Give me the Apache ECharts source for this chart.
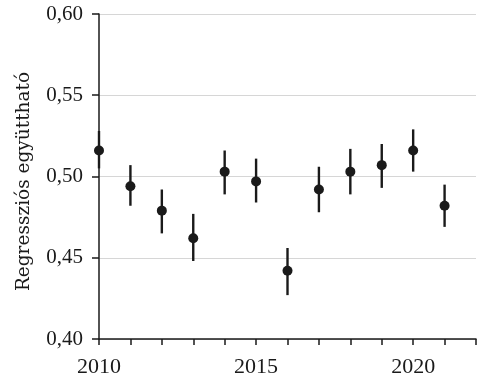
<!DOCTYPE html>
<html>
<head>
<meta charset="utf-8">
<script src="https://cdn.jsdelivr.net/npm/echarts@6/dist/echarts.min.js"></script>
<style>
html,body{margin:0;padding:0;background:#fff;}
#chart{width:485px;height:378px;}
</style>
</head>
<body>
<div id="chart"></div>
<script>
var years = [2010, 2011, 2012, 2013, 2014, 2015, 2016, 2017, 2018, 2019, 2020, 2021];
var estimates = [0.516, 0.494, 0.479, 0.462, 0.503, 0.497, 0.442, 0.492, 0.503, 0.507, 0.516, 0.482];
var lower = [0.505, 0.482, 0.465, 0.448, 0.489, 0.484, 0.427, 0.478, 0.489, 0.493, 0.503, 0.469];
var upper = [0.528, 0.507, 0.492, 0.477, 0.516, 0.511, 0.456, 0.506, 0.517, 0.520, 0.529, 0.495];
var yTicks = [0.40, 0.45, 0.50, 0.55, 0.60];
var xLabelYears = [2010, 2015, 2020];
var yAxisTitle = 'Regressziós együttható';

var fontFam = '"Liberation Serif", "DejaVu Serif", serif';
var titleFam = '"DejaVu Serif", "Liberation Serif", serif';
var ink = '#1a1a1a';

var chart = echarts.init(document.getElementById('chart'));
var points = years.map(function (y, i) { return [y, estimates[i]]; });
var bars = years.map(function (y, i) { return [y, lower[i], upper[i]]; });

chart.setOption({
  animation: false,
  backgroundColor: '#ffffff',
  grid: { left: 99, right: 9, top: 14, bottom: 39 },
  xAxis: {
    type: 'value',
    min: 2010, max: 2022, interval: 1,
    axisLine: { show: true, lineStyle: { color: ink, width: 1.5 } },
    axisTick: { show: true, length: 6, lineStyle: { color: ink, width: 1.5 } },
    splitLine: { show: false },
    axisLabel: {
      color: ink, fontFamily: fontFam, fontSize: 22, margin: 17,
      formatter: function (v) { return xLabelYears.indexOf(v) >= 0 ? String(v) : ''; }
    }
  },
  yAxis: {
    type: 'value',
    min: yTicks[0], max: yTicks[yTicks.length - 1], interval: 0.05,
    name: yAxisTitle,
    nameLocation: 'middle',
    nameGap: 65,
    nameTextStyle: { color: ink, fontFamily: titleFam, fontSize: 18.5, padding: [0, 10, 0, 0] },
    axisLine: { show: true, lineStyle: { color: ink, width: 1.5 } },
    axisTick: { show: true, length: 7, lineStyle: { color: ink, width: 1.5 } },
    splitLine: { show: true, lineStyle: { color: '#d6d6d6', width: 1.2 } },
    axisLabel: {
      color: ink, fontFamily: fontFam, fontSize: 21, margin: 16,
      formatter: function (v) { return v.toFixed(2).replace('.', ','); }
    }
  },
  series: [
    {
      type: 'custom',
      data: bars,
      renderItem: function (params, api) {
        var x = api.value(0);
        var lo = api.coord([x, api.value(1)]);
        var hi = api.coord([x, api.value(2)]);
        return {
          type: 'line',
          shape: { x1: lo[0], y1: lo[1], x2: hi[0], y2: hi[1] },
          style: { stroke: ink, lineWidth: 2.4 }
        };
      },
      z: 2
    },
    {
      type: 'scatter',
      data: points,
      symbol: 'circle',
      symbolSize: 10,
      itemStyle: { color: ink, opacity: 1 },
      z: 3
    }
  ]
});
</script>
</body>
</html>
